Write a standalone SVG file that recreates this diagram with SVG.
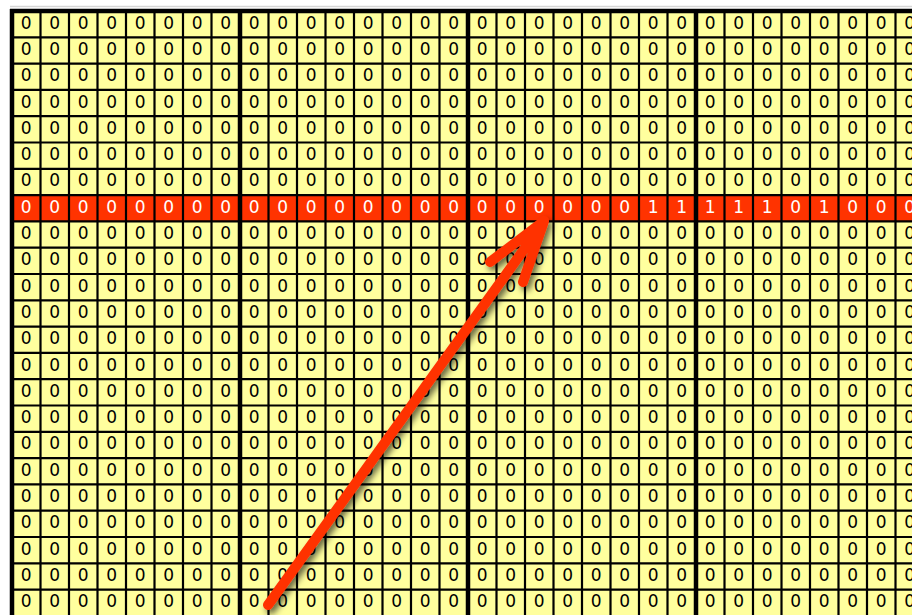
<svg xmlns="http://www.w3.org/2000/svg" width="912" height="615" viewBox="0 0 912 615">
<defs>
<style>
.bg{fill:#FFFF9E}
.hot{fill:#FF3300}
.thin{stroke:#000;stroke-width:2.2;fill:none}
.thick{stroke:#000;stroke-width:4.5;fill:none}
.d{font-family:"DejaVu Sans","Liberation Sans",sans-serif;font-size:17px;text-anchor:middle;fill:#000}
.w{fill:#fff}
.arrow{stroke:#FF3300;stroke-width:10;stroke-linecap:round;stroke-linejoin:round;fill:none}
</style>
<filter id="sh" x="-20%" y="-20%" width="140%" height="140%">
<feDropShadow dx="3" dy="4" stdDeviation="3" flood-color="#000" flood-opacity="0.6"/>
</filter>
</defs>
<rect x="0" y="0" width="912" height="615" fill="#fff"/>
<line x1="10" y1="6.5" x2="912" y2="6.5" stroke="#d6d6d6" stroke-width="1.5"/>
<g id="grid">
<rect class="bg" x="12" y="11" width="900" height="604"/>
<rect class="hot" x="12" y="195.1" width="900" height="26.3"/>
<path class="thin" d="M12,37.3H912M12,63.6H912M12,89.9H912M12,116.2H912M12,142.5H912M12,168.8H912M12,195.1H912M12,221.4H912M12,247.7H912M12,274H912M12,300.3H912M12,326.6H912M12,352.9H912M12,379.2H912M12,405.5H912M12,431.8H912M12,458.1H912M12,484.4H912M12,510.7H912M12,537H912M12,563.3H912M12,589.6H912"/>
<path class="thin" d="M40.5,11V615M69,11V615M97.5,11V615M126,11V615M154.5,11V615M183,11V615M211.5,11V615M268.5,11V615M297,11V615M325.5,11V615M354,11V615M382.5,11V615M411,11V615M439.5,11V615M496.5,11V615M525,11V615M553.5,11V615M582,11V615M610.5,11V615M639,11V615M667.5,11V615M724.5,11V615M753,11V615M781.5,11V615M810,11V615M838.5,11V615M867,11V615M895.5,11V615"/>
<path class="thick" d="M12,9V615M240,9V615M468,9V615M696,9V615M10,11H912"/>
</g>
<g id="labels">
<text class="d" y="28.6" x="26.25 54.75 83.25 111.75 140.25 168.75 197.25 225.75 254.25 282.75 311.25 339.75 368.25 396.75 425.25 453.75 482.25 510.75 539.25 567.75 596.25 624.75 653.25 681.75 710.25 738.75 767.25 795.75 824.25 852.75 881.25 909.75">00000000000000000000000000000000</text>
<text class="d" y="54.9" x="26.25 54.75 83.25 111.75 140.25 168.75 197.25 225.75 254.25 282.75 311.25 339.75 368.25 396.75 425.25 453.75 482.25 510.75 539.25 567.75 596.25 624.75 653.25 681.75 710.25 738.75 767.25 795.75 824.25 852.75 881.25 909.75">00000000000000000000000000000000</text>
<text class="d" y="81.2" x="26.25 54.75 83.25 111.75 140.25 168.75 197.25 225.75 254.25 282.75 311.25 339.75 368.25 396.75 425.25 453.75 482.25 510.75 539.25 567.75 596.25 624.75 653.25 681.75 710.25 738.75 767.25 795.75 824.25 852.75 881.25 909.75">00000000000000000000000000000000</text>
<text class="d" y="107.5" x="26.25 54.75 83.25 111.75 140.25 168.75 197.25 225.75 254.25 282.75 311.25 339.75 368.25 396.75 425.25 453.75 482.25 510.75 539.25 567.75 596.25 624.75 653.25 681.75 710.25 738.75 767.25 795.75 824.25 852.75 881.25 909.75">00000000000000000000000000000000</text>
<text class="d" y="133.8" x="26.25 54.75 83.25 111.75 140.25 168.75 197.25 225.75 254.25 282.75 311.25 339.75 368.25 396.75 425.25 453.75 482.25 510.75 539.25 567.75 596.25 624.75 653.25 681.75 710.25 738.75 767.25 795.75 824.25 852.75 881.25 909.75">00000000000000000000000000000000</text>
<text class="d" y="160.1" x="26.25 54.75 83.25 111.75 140.25 168.75 197.25 225.75 254.25 282.75 311.25 339.75 368.25 396.75 425.25 453.75 482.25 510.75 539.25 567.75 596.25 624.75 653.25 681.75 710.25 738.75 767.25 795.75 824.25 852.75 881.25 909.75">00000000000000000000000000000000</text>
<text class="d" y="186.4" x="26.25 54.75 83.25 111.75 140.25 168.75 197.25 225.75 254.25 282.75 311.25 339.75 368.25 396.75 425.25 453.75 482.25 510.75 539.25 567.75 596.25 624.75 653.25 681.75 710.25 738.75 767.25 795.75 824.25 852.75 881.25 909.75">00000000000000000000000000000000</text>
<text class="d w" y="212.7" x="26.25 54.75 83.25 111.75 140.25 168.75 197.25 225.75 254.25 282.75 311.25 339.75 368.25 396.75 425.25 453.75 482.25 510.75 539.25 567.75 596.25 624.75 653.25 681.75 710.25 738.75 767.25 795.75 824.25 852.75 881.25 909.75">00000000000000000000001111101000</text>
<text class="d" y="239" x="26.25 54.75 83.25 111.75 140.25 168.75 197.25 225.75 254.25 282.75 311.25 339.75 368.25 396.75 425.25 453.75 482.25 510.75 539.25 567.75 596.25 624.75 653.25 681.75 710.25 738.75 767.25 795.75 824.25 852.75 881.25 909.75">00000000000000000000000000000000</text>
<text class="d" y="265.3" x="26.25 54.75 83.25 111.75 140.25 168.75 197.25 225.75 254.25 282.75 311.25 339.75 368.25 396.75 425.25 453.75 482.25 510.75 539.25 567.75 596.25 624.75 653.25 681.75 710.25 738.75 767.25 795.75 824.25 852.75 881.25 909.75">00000000000000000000000000000000</text>
<text class="d" y="291.6" x="26.25 54.75 83.25 111.75 140.25 168.75 197.25 225.75 254.25 282.75 311.25 339.75 368.25 396.75 425.25 453.75 482.25 510.75 539.25 567.75 596.25 624.75 653.25 681.75 710.25 738.75 767.25 795.75 824.25 852.75 881.25 909.75">00000000000000000000000000000000</text>
<text class="d" y="317.9" x="26.25 54.75 83.25 111.75 140.25 168.75 197.25 225.75 254.25 282.75 311.25 339.75 368.25 396.75 425.25 453.75 482.25 510.75 539.25 567.75 596.25 624.75 653.25 681.75 710.25 738.75 767.25 795.75 824.25 852.75 881.25 909.75">00000000000000000000000000000000</text>
<text class="d" y="344.2" x="26.25 54.75 83.25 111.75 140.25 168.75 197.25 225.75 254.25 282.75 311.25 339.75 368.25 396.75 425.25 453.75 482.25 510.75 539.25 567.75 596.25 624.75 653.25 681.75 710.25 738.75 767.25 795.75 824.25 852.75 881.25 909.75">00000000000000000000000000000000</text>
<text class="d" y="370.5" x="26.25 54.75 83.25 111.75 140.25 168.75 197.25 225.75 254.25 282.75 311.25 339.75 368.25 396.75 425.25 453.75 482.25 510.75 539.25 567.75 596.25 624.75 653.25 681.75 710.25 738.75 767.25 795.75 824.25 852.75 881.25 909.75">00000000000000000000000000000000</text>
<text class="d" y="396.8" x="26.25 54.75 83.25 111.75 140.25 168.75 197.25 225.75 254.25 282.75 311.25 339.75 368.25 396.75 425.25 453.75 482.25 510.75 539.25 567.75 596.25 624.75 653.25 681.75 710.25 738.75 767.25 795.75 824.25 852.75 881.25 909.75">00000000000000000000000000000000</text>
<text class="d" y="423.1" x="26.25 54.75 83.25 111.75 140.25 168.75 197.25 225.75 254.25 282.75 311.25 339.75 368.25 396.75 425.25 453.75 482.25 510.75 539.25 567.75 596.25 624.75 653.25 681.75 710.25 738.75 767.25 795.75 824.25 852.75 881.25 909.75">00000000000000000000000000000000</text>
<text class="d" y="449.4" x="26.25 54.75 83.25 111.75 140.25 168.75 197.25 225.75 254.25 282.75 311.25 339.75 368.25 396.75 425.25 453.75 482.25 510.75 539.25 567.75 596.25 624.75 653.25 681.75 710.25 738.75 767.25 795.75 824.25 852.75 881.25 909.75">00000000000000000000000000000000</text>
<text class="d" y="475.7" x="26.25 54.75 83.25 111.75 140.25 168.75 197.25 225.75 254.25 282.75 311.25 339.75 368.25 396.75 425.25 453.75 482.25 510.75 539.25 567.75 596.25 624.75 653.25 681.75 710.25 738.75 767.25 795.75 824.25 852.75 881.25 909.75">00000000000000000000000000000000</text>
<text class="d" y="502" x="26.25 54.75 83.25 111.75 140.25 168.75 197.25 225.75 254.25 282.75 311.25 339.75 368.25 396.75 425.25 453.75 482.25 510.75 539.25 567.75 596.25 624.75 653.25 681.75 710.25 738.75 767.25 795.75 824.25 852.75 881.25 909.75">00000000000000000000000000000000</text>
<text class="d" y="528.3" x="26.25 54.75 83.25 111.75 140.25 168.75 197.25 225.75 254.25 282.75 311.25 339.75 368.25 396.75 425.25 453.75 482.25 510.75 539.25 567.75 596.25 624.75 653.25 681.75 710.25 738.75 767.25 795.75 824.25 852.75 881.25 909.75">00000000000000000000000000000000</text>
<text class="d" y="554.6" x="26.25 54.75 83.25 111.75 140.25 168.75 197.25 225.75 254.25 282.75 311.25 339.75 368.25 396.75 425.25 453.75 482.25 510.75 539.25 567.75 596.25 624.75 653.25 681.75 710.25 738.75 767.25 795.75 824.25 852.75 881.25 909.75">00000000000000000000000000000000</text>
<text class="d" y="580.9" x="26.25 54.75 83.25 111.75 140.25 168.75 197.25 225.75 254.25 282.75 311.25 339.75 368.25 396.75 425.25 453.75 482.25 510.75 539.25 567.75 596.25 624.75 653.25 681.75 710.25 738.75 767.25 795.75 824.25 852.75 881.25 909.75">00000000000000000000000000000000</text>
<text class="d" y="607.2" x="26.25 54.75 83.25 111.75 140.25 168.75 197.25 225.75 254.25 282.75 311.25 339.75 368.25 396.75 425.25 453.75 482.25 510.75 539.25 567.75 596.25 624.75 653.25 681.75 710.25 738.75 767.25 795.75 824.25 852.75 881.25 909.75">00000000000000000000000000000000</text>
</g>
<g id="arrow" filter="url(#sh)">
<path class="arrow" d="M268,605L543,223M490,262L544,221L523,282"/>
</g>
</svg>
